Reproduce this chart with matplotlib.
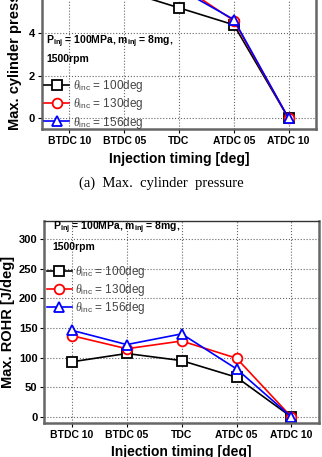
import numpy as np
import matplotlib
matplotlib.use("Agg")
import matplotlib.pyplot as plt

plt.rcParams['font.family'] = ['Liberation Sans', 'DejaVu Sans']
plt.rcParams['mathtext.fontset'] = 'custom'
plt.rcParams['mathtext.rm'] = 'Liberation Sans'
plt.rcParams['mathtext.it'] = 'Liberation Serif:italic'

# data
timings = ['BTDC 10', 'BTDC 05', 'TDC', 'ATDC 05', 'ATDC 10']
series_labels = ['100deg', '130deg', '156deg']

p_max_100 = [6.8, 6.0, 5.2, 4.4, 0.0]
p_max_130 = [7.3, 6.7, 6.3, 4.6, 0.0]
p_max_156 = [7.4, 6.8, 6.1, 4.65, 0.0]

rohr_100 = [93, 107, 95, 67, 0]
rohr_130 = [137, 115, 128, 99, 0]
rohr_156 = [146, 122, 140, 81, 0]

colors = ['black', 'red', 'blue']
markers = ['s', 'o', '^']


def style_axes(ax):
    ax.grid(True, color='#666666', linestyle=':', linewidth=0.8)
    ax.set_axisbelow(True)
    for side in ['left', 'bottom', 'right']:
        ax.spines[side].set_color('#666666')
        ax.spines[side].set_linewidth(1.8)
    ax.spines['top'].set_color('#333333')
    ax.spines['top'].set_linewidth(1.0)
    ax.tick_params(direction='out', length=3, width=0.8, pad=2)
    ax.tick_params(axis='x', labelsize=7.5)
    ax.tick_params(axis='y', labelsize=8)
    for lab in ax.get_xticklabels() + ax.get_yticklabels():
        lab.set_fontweight('bold')


def draw_panel(ax, series):
    x = np.arange(len(timings))
    for vals, c, m, lab in zip(series, colors, markers, series_labels):
        ax.plot(x, vals, color=c, marker=m, markersize=7, markerfacecolor='white',
                markeredgecolor=c, markeredgewidth=1.3, linewidth=1.2,
                label=r'$\mathit{\theta}_{\mathrm{inc}}$' + ' = ' + lab, clip_on=False)
    ax.set_xticks(x)
    ax.set_xticklabels(timings)
    ax.set_xlim(-0.5, len(timings) - 0.5)
    ax.set_xlabel('Injection timing [deg]', fontsize=10, fontweight='bold', labelpad=4)


def add_legend(ax, anchor_y):
    leg = ax.legend(loc='upper left', bbox_to_anchor=(0.0, anchor_y), frameon=False,
                    fontsize=8.5, handlelength=2.1, handletextpad=0.3, labelspacing=0.2,
                    borderpad=0.2, borderaxespad=0)
    for t in leg.get_texts():
        t.set_color('#444444')


fig = plt.figure(figsize=(3.22, 4.57), dpi=100)

# top panel (cropped at the top of the image)
ax1 = fig.add_axes([0.1304, 0.7177, 0.851, 0.442])
draw_panel(ax1, [p_max_100, p_max_130, p_max_156])
ax1.set_ylim(-0.5, 9)
ax1.set_yticks([0, 2, 4, 6, 8])
ax1.set_ylabel('Max. cylinder pressure [MPa]', fontsize=10.5, fontweight='bold', labelpad=5)
style_axes(ax1)
ax1.text(0.015, 0.43, r'P$_{\mathregular{inj}}$ = 100MPa, m$_{\mathregular{inj}}$ = 8mg,',
         transform=ax1.transAxes, fontsize=7.5, fontweight='bold', va='center')
ax1.text(0.015, 0.345, '1500rpm', transform=ax1.transAxes, fontsize=7.5,
         fontweight='bold', va='center')
add_legend(ax1, 0.265)

fig.text(0.5, 1 - 183 / 457, '(a)  Max.  cylinder  pressure', ha='center', va='center',
         fontsize=10.5, family='Liberation Serif')

# bottom panel
ax2 = fig.add_axes([0.138, 0.0744, 0.8525, 0.442])
draw_panel(ax2, [rohr_100, rohr_130, rohr_156])
ax2.set_ylim(-10, 330)
ax2.set_yticks(np.arange(0, 301, 50))
ax2.set_ylabel('Max. ROHR [J/deg]', fontsize=10.5, fontweight='bold', labelpad=3)
style_axes(ax2)
ax2.text(0.03, 0.965, r'P$_{\mathregular{inj}}$ = 100MPa, m$_{\mathregular{inj}}$ = 8mg,',
         transform=ax2.transAxes, fontsize=7.5, fontweight='bold', va='center')
ax2.text(0.03, 0.87, '1500rpm', transform=ax2.transAxes, fontsize=7.5,
         fontweight='bold', va='center')
add_legend(ax2, 0.8)

fig.savefig('out.png', dpi=100)
